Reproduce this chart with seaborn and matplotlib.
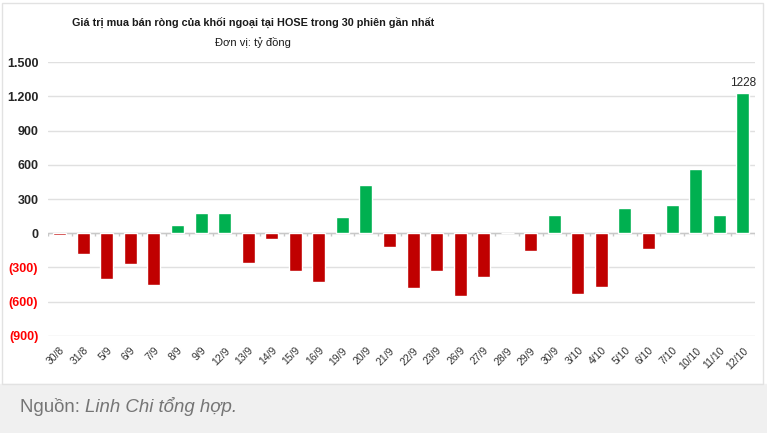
import numpy as np
import pandas as pd
import seaborn as sns
import matplotlib
matplotlib.use("Agg")
import matplotlib.pyplot as plt
from matplotlib.patches import Rectangle

# data (ty dong)
dates = ['30/8', '31/8', '5/9', '6/9', '7/9', '8/9', '9/9', '12/9', '13/9', '14/9',
         '15/9', '16/9', '19/9', '20/9', '21/9', '22/9', '23/9', '26/9', '27/9', '28/9',
         '29/9', '30/9', '3/10', '4/10', '5/10', '6/10', '7/10', '10/10', '11/10', '12/10']
values = [-15, -180, -400, -270, -455, 70, 175, 175, -260, -55,
          -335, -430, 145, 420, -120, -480, -330, -555, -385, 0,
          -160, 158, -535, -470, 225, -135, 250, 560, 158, 1228]
yticks = [-900, -600, -300, 0, 300, 600, 900, 1200, 1500]

df = pd.DataFrame({'date': dates, 'value': values})
df['side'] = np.where(df['value'] >= 0, 'mua', 'ban')

sns.set_theme(style="white")
plt.rcParams['font.family'] = ['Liberation Sans', 'DejaVu Sans']

W, H = 767, 433
fig = plt.figure(figsize=(W / 100, H / 100), dpi=100)

# grey footer + light frame round the chart box
fig.patches.append(Rectangle((0, 0), 1, 1 - 384 / H, transform=fig.transFigure,
                             color='#f0f0f0', zorder=0))
fig.patches.append(Rectangle((2 / W, 1 - 384 / H), 761 / W, 381 / H, transform=fig.transFigure,
                             fill=False, ec='#e2e2e2', lw=1, zorder=1))

ax = fig.add_axes([48 / W, 1 - 335.7 / H, (754.5 - 48) / W, (335.7 - 62.3) / H])
ax.patch.set_alpha(0)

sns.barplot(data=df, x='date', y='value', hue='side',
            palette={'mua': '#00B050', 'ban': '#C00000'}, saturation=1,
            width=0.55, dodge=False, legend=False, ax=ax, zorder=3)

ax.set_xlim(-0.5, len(dates) - 0.5)
ax.set_ylim(yticks[0], yticks[-1])
ax.set_yticks(yticks)

def fmt(v):
    s = f'{abs(v):,}'.replace(',', '.')
    return f'({s})' if v < 0 else s

ax.set_yticklabels([fmt(v) for v in yticks], fontweight='bold', fontsize=9)
for lab, v in zip(ax.get_yticklabels(), yticks):
    lab.set_color('#FF0000' if v < 0 else '#262626')

ax.set_xticks(range(len(dates)))
ax.set_xticklabels(dates, rotation=45, ha='right', rotation_mode='anchor',
                   fontsize=7.5, color='#333333')
ax.tick_params(axis='y', length=0, pad=7)
ax.tick_params(axis='x', length=0, pad=7)
ax.set_xlabel('')
ax.set_ylabel('')

ax.yaxis.grid(True, color='#e0e0e0', lw=1)
ax.set_axisbelow(True)
for sp in ax.spines.values():
    sp.set_visible(False)

# zero line with small category ticks
ax.axhline(0, color='#c8c8c8', lw=1, zorder=2)
ax.vlines(np.arange(-0.5, len(dates), 1), -25, 0, color='#c8c8c8', lw=1, zorder=2)

ax.annotate(f'{values[-1]}', (len(values) - 1, values[-1]), xytext=(0, 3),
            textcoords='offset points', ha='center', va='bottom', fontsize=8.5, color='#262626')

fig.text(253 / W, 1 - 22 / H, 'Giá trị mua bán ròng của khối ngoại tại HOSE trong 30 phiên gần nhất',
         ha='center', va='center', fontweight='bold', fontsize=7.8, color='#1a1a1a')
fig.text(253 / W, 1 - 43 / H, 'Đơn vị: tỷ đồng', ha='center', va='center', fontsize=8, color='#1a1a1a')

t1 = fig.text(20 / W, 1 - 412 / H, 'Nguồn: ', ha='left', va='baseline', fontsize=13.4, color='#757575')
fig.canvas.draw()
bb = t1.get_window_extent()
fig.text(bb.x1 / W, 1 - 412 / H, 'Linh Chi tổng hợp.', ha='left', va='baseline',
         fontsize=13.4, fontstyle='italic', color='#757575')

plt.savefig('out.png', dpi=100)
